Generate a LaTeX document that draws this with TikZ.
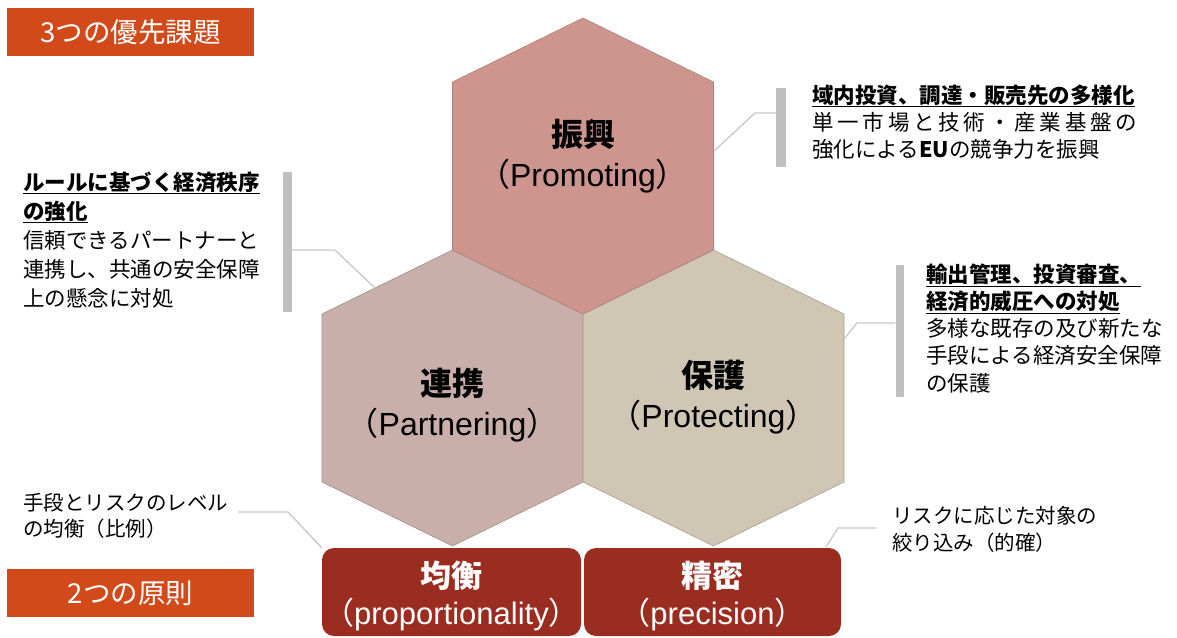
\documentclass[tikz,border=0pt]{standalone}
\usepackage{fontspec}
\setmainfont{Liberation Sans}
\newfontfamily\jp{Noto Sans CJK JP}
\definecolor{hexT}{HTML}{CD958E}
\definecolor{hexL}{HTML}{C9AFA9}
\definecolor{hexR}{HTML}{CFC7B4}
\definecolor{boxred}{HTML}{9B2D20}
\definecolor{tagred}{HTML}{D24A1A}
\definecolor{barg}{HTML}{BFBFBF}
\definecolor{lineg}{HTML}{C8C8C8}
\begin{document}
\begin{tikzpicture}[x=1pt,y=-1pt,
  hexedge/.style={line width=0.6pt},
  tag/.style={fill=tagred, text=white, minimum width=247pt, minimum height=48pt, inner sep=0pt, font=\jp\fontsize{27.5}{30}\selectfont},
  bar/.style={fill=barg, inner sep=0pt, minimum width=9pt},
  conn/.style={draw=lineg, line width=1.3pt},
  body/.style={anchor=base west, align=left, inner sep=0pt, font=\jp\fontsize{21.5}{28}\selectfont},
  hexlabel/.style={align=center, inner sep=0pt, font=\fontsize{32}{40}\selectfont},
  principle/.style={fill=boxred, rounded corners=12pt, inner sep=0pt, minimum height=88pt},
  plabel/.style={align=center, inner sep=0pt, text=white, font=\fontsize{31}{37}\selectfont},
]
\useasboundingbox (0,0) rectangle (1177,637);

% hexagons
\filldraw[hexedge, fill=hexL, draw=hexL!80!black] (452.5,250) -- (583,314) -- (583,482) -- (452.5,546) -- (322,482) -- (322,314) -- cycle;
\filldraw[hexedge, fill=hexR, draw=hexR!80!black] (713.5,250) -- (844,314) -- (844,482) -- (713.5,546) -- (583,482) -- (583,314) -- cycle;
\filldraw[hexedge, fill=hexT, draw=hexT!85!black] (583,18) -- (713.5,82) -- (713.5,250) -- (583,314) -- (452.5,250) -- (452.5,82) -- cycle;

\node[hexlabel] (hT) at (583,156) {{\jp\bfseries 振興}\\{\jp （}Promoting{\jp ）}};
\node[hexlabel] (hL) at (452.5,405) {{\jp\bfseries 連携}\\{\jp （}Partnering{\jp ）}};
\node[hexlabel] (hR) at (713.5,397) {{\jp\bfseries 保護}\\{\jp （}Protecting{\jp ）}};

% principle boxes
\node[principle, minimum width=259pt] (boxP) at (451.5,592) {};
\node[principle, minimum width=257pt] (boxQ) at (712.5,592) {};
\node[plabel] (lblP) at (451.5,596) {{\jp\bfseries 均衡}\\{\jp （}proportionality{\jp ）}};
\node[plabel] (lblQ) at (712.5,596) {{\jp\bfseries 精密}\\{\jp （}precision{\jp ）}};

% tags
\node[tag] (tag1) at (130.5,32) {3つの優先課題};
\node[tag] (tag2) at (130.5,593) {2つの原則};

% text blocks (anchor = baseline of last line)
\node[body, font=\jp\fontsize{21.5}{29}\selectfont] (tL) at (23,306) {\underline{\bfseries ルールに基づく経済秩序}\\\underline{\bfseries の強化}\\信頼できるパートナーと\\連携し、共通の安全保障\\上の懸念に対処};
\node[body, font=\jp\fontsize{21.5}{27}\selectfont] (tT) at (812,157) {\underline{\bfseries 域内投資、調達・販売先の多様化}\\\makebox[325pt][s]{単\hfill 一\hfill 市\hfill 場\hfill と\hfill 技\hfill 術\hfill ・\hfill 産\hfill 業\hfill 基\hfill 盤\hfill の}\\強化による{\bfseries EU}の競争力を振興};
\node[body, font=\jp\fontsize{21.5}{27.2}\selectfont] (tR) at (926,391) {\underline{\bfseries 輸出管理、投資審査、}\\\underline{\bfseries 経済的威圧への対処}\\多様な既存の及び新たな\\手段による経済安全保障\\の保護};
\node[body, font=\jp\fontsize{20.5}{26}\selectfont] (tP) at (23,536) {手段とリスクのレベル\\の均衡（比例）};
\node[body, font=\jp\fontsize{20.5}{27}\selectfont] (tQ) at (892,550) {リスクに応じた対象の\\絞り込み（的確）};

% bars
\node[bar, minimum height=140pt] (barL) at (287.5,242) {};
\node[bar, minimum height=79pt, minimum width=10pt] (barT) at (781,127.5) {};
\node[bar, minimum height=132pt, minimum width=8pt] (barR) at (899.5,331) {};

% connectors
\coordinate (kL) at (335,250); \coordinate (eL) at (375,288);
\draw[conn] (barL.east |- kL) -- (kL) -- (eL);
\coordinate (kT) at (755,113); \coordinate (eT) at (714,151);
\draw[conn] (barT.west |- kT) -- (kT) -- (eT);
\coordinate (kR) at (857,323); \coordinate (eR) at (844,339);
\draw[conn] (barR.west |- kR) -- (kR) -- (eR);
\coordinate (sP) at (238,512); \coordinate (kP) at (288,512);
\draw[conn] (sP) -- (kP) -- (boxP.north west);
\coordinate (sQ) at (877,528); \coordinate (kQ) at (838,528); \coordinate (eQ) at (826,547);
\draw[conn] (sQ) -- (kQ) -- (eQ);
\end{tikzpicture}
\end{document}
